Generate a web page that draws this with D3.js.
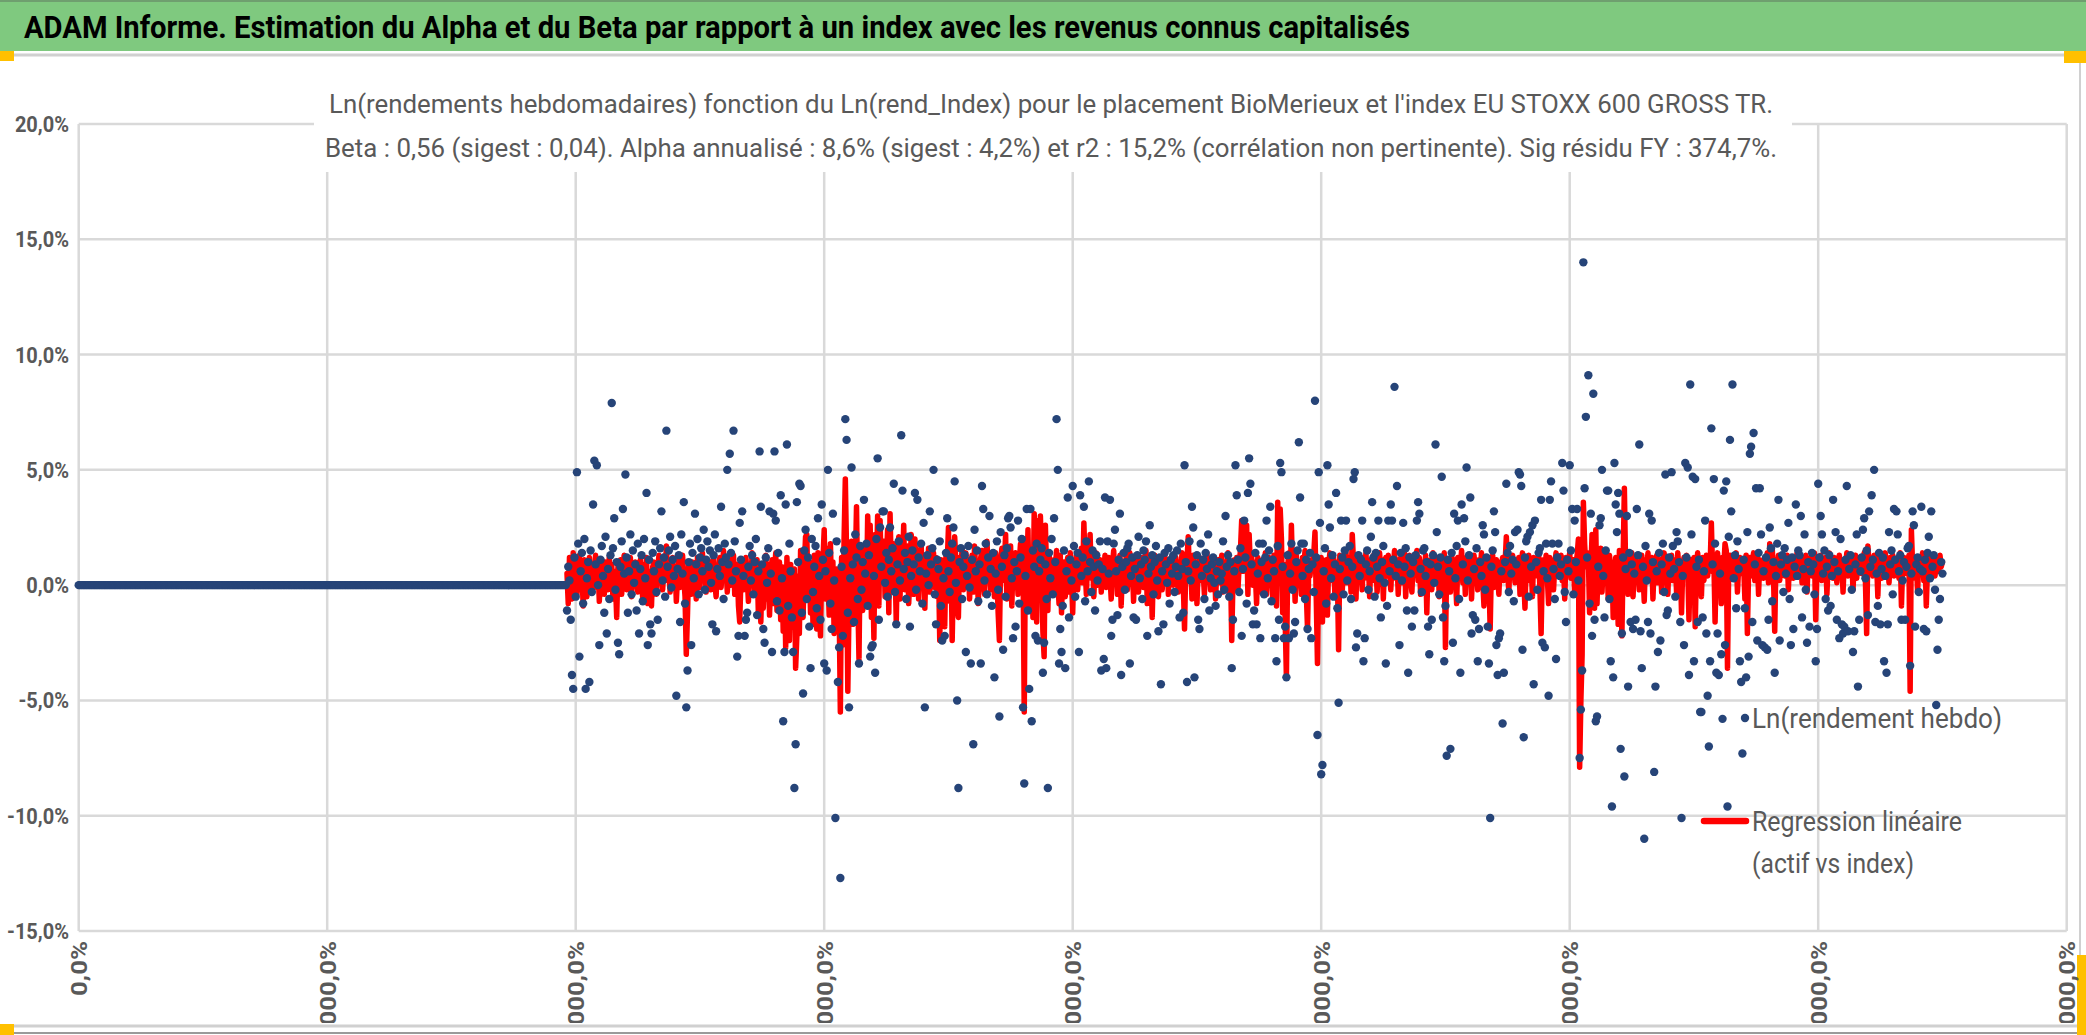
<!DOCTYPE html>
<html>
<head>
<meta charset="utf-8">
<script src="https://cdn.jsdelivr.net/npm/d3@7"></script>
<style>
  body { margin: 0; background: #fff; }
  svg { display: block; font-family: "Liberation Sans Narrow", "Roboto", sans-serif; }
</style>
</head>
<body>
<svg id="chart"></svg>
<script>
// semaines sans cotation (valeur 0) avant le début de la série
const semainesVides = [
  0,0,0,0,0,0,0,0,0,0,0,0,0,0,0,0,0,0,0,0,0,0,0,0,0,0,0,0,0,0,0,0,0,0,0,0,0,0,0,0,0,0,0,0,0,0,0,0,0,0,
  0,0,0,0,0,0,0,0,0,0,0,0,0,0,0,0,0,0,0,0,0,0,0,0,0,0,0,0,0,0,0,0,0,0,0,0,0,0,0,0,0,0,0,0,0,0,0,0,0,0,
  0,0,0,0,0,0,0,0,0,0,0,0,0,0,0,0,0,0,0,0,0,0,0,0,0,0,0,0,0,0,0,0,0,0,0,0,0,0,0,0,0,0,0,0,0,0,0,0,0,0,
  0,0,0,0,0,0,0,0,0,0,0,0,0,0,0,0,0,0,0,0,0,0,0,0,0,0,0,0,0,0,0,0,0,0,0,0,0,0,0,0,0,0,0,0,0,0,0,0,0,0,
  0,0,0,0,0,0,0,0,0,0,0,0,0,0,0,0,0,0,0,0,0,0,0,0,0,0,0,0,0,0,0,0,0,0,0,0,0,0,0,0,0,0,0,0,0,0,0,0,0,0,
  0,0,0,0,0,0,0,0,0,0,0,0,0,0,0,0,0,0,0,0,0,0,0,0,0,0,0,0,0,0,0,0,0,0,0,0,0,0,0,0,0,0,0,0,0,0,0,0,0,0,
  0,0,0,0,0,0,0,0,0,0,0,0,0,0,0,0,0,0,0,0,0,0,0,0,0,0,0,0,0,0,0,0,0,0,0,0,0,0,0,0,0,0,0,0,0,0,0,0,0,0,
  0,0,0,0,0,0,0,0,0,0,0,0,0,0,0,0,0,0,0,0,0,0,0,0,0,0,0,0,0,0,0,0,0,0,0,0,0,0,0,0,0,0,0
];

// Ln(rendement hebdo), en dixièmes de %, semaines 393 à 1500
const rendHebdo = [
  -11,8,2,-15,-39,-45,12,-5,49,18,-31,6,14,-8,20,-45,3,10,-42,15,
  -3,35,54,9,52,0,-26,11,17,4,-12,21,-21,7,-6,13,79,16,29,-2,
  10,-25,-30,8,19,33,5,48,12,-12,6,22,-4,15,1,9,-11,18,-21,7,
  13,-7,20,3,40,-26,11,-17,-21,14,6,19,-3,-15,9,16,32,2,12,-5,
  67,8,15,21,-1,11,4,17,-48,7,13,-16,22,5,36,-8,-53,-37,10,18,
  -26,14,3,31,9,20,-4,12,16,6,24,-2,11,19,8,15,1,-17,13,22,
  -20,7,16,4,34,10,-6,18,12,50,9,57,14,2,67,19,6,-31,-22,27,
  11,32,4,-22,-15,-12,8,17,2,13,-4,10,20,-13,6,58,34,9,-19,-25,
  12,1,16,32,5,-29,31,58,28,-7,14,-11,39,3,-59,-29,35,61,-9,18,
  6,-14,-29,-88,-69,36,10,44,43,-12,-47,15,24,-6,12,-18,-36,20,-3,8,
  17,-10,29,4,-15,35,11,-34,6,-37,50,14,-8,-19,31,2,-101,19,-42,-27,
  -127,8,-22,15,72,63,-12,-53,3,51,9,-16,22,12,-6,-34,17,-2,10,37,
  5,18,-9,13,-31,-27,-26,4,-38,20,55,-15,25,8,32,32,1,14,-5,11,
  25,6,16,44,-3,-17,9,19,2,65,41,7,14,-6,10,21,-18,4,15,9,
  40,-2,37,12,6,18,-8,27,-53,5,13,0,32,9,16,50,-4,-17,11,7,
  19,-9,-24,3,-22,14,29,6,-3,12,18,25,45,1,-50,-88,10,16,-6,8,
  13,-29,4,17,-1,-34,11,-69,24,6,15,-7,9,-34,43,33,2,18,-4,12,
  30,7,-9,14,-40,5,19,-2,-57,23,8,-28,13,-5,16,29,30,25,3,-23,
  10,-18,6,28,-8,12,20,-53,-86,4,33,-11,-45,33,-59,15,8,-22,18,-24,
  6,11,16,-38,-25,9,-6,-88,14,3,20,-4,29,10,72,50,-34,-19,-29,-9,
  15,-36,6,38,-14,11,2,43,17,-5,9,14,-29,39,4,12,34,-7,19,6,
  45,10,-3,15,8,-11,13,2,9,19,-37,7,-32,38,-36,19,5,37,-22,-15,
  18,24,6,-13,11,31,-39,8,14,-2,10,16,18,-34,4,12,-14,7,-15,13,
  21,3,9,-6,15,11,19,-22,5,26,8,13,-4,10,17,2,-20,12,-43,6,
  -17,14,9,1,16,-8,11,5,13,-3,8,15,4,-14,18,7,-12,52,10,-42,
  6,19,2,34,25,-40,9,13,-15,-19,18,4,11,-6,14,7,22,-11,3,9,
  12,1,-9,6,-4,10,2,5,19,-2,30,8,13,-5,10,-36,-15,6,52,39,
  11,-3,16,-22,7,28,12,-8,40,55,44,9,-17,-11,14,-17,5,18,-23,10,
  18,-4,12,28,3,15,34,-7,11,6,-23,-33,17,-15,53,49,8,-23,-18,-40,
  13,-23,5,18,-2,-21,-16,10,15,62,38,18,4,18,-6,11,-19,7,14,-23,
  9,-3,80,12,-65,49,27,-82,-78,6,16,-8,52,35,25,3,13,-5,9,40,
  -10,-51,7,28,12,-4,15,28,2,10,17,-6,8,46,49,-27,-21,13,4,11,
  28,-33,-23,9,15,-2,6,21,36,12,-5,14,8,28,3,-14,10,17,1,-34,
  -9,28,6,35,28,11,86,4,43,9,-26,14,2,27,8,16,-11,-38,12,5,
  -18,10,-11,13,28,36,31,7,-3,15,16,4,10,-18,-30,9,-15,13,1,61,
  23,8,-4,12,47,-14,-33,-9,-74,11,6,-71,14,-25,31,3,17,28,-6,-38,
  35,9,29,19,51,2,13,38,-21,-13,7,-15,16,-33,-19,10,4,26,22,-2,
  12,-18,-34,-101,8,15,32,23,-26,-39,-23,-21,6,-60,-38,10,44,14,-3,17,
  5,11,-7,23,9,24,49,48,43,-28,-66,12,19,21,-5,23,8,26,-43,28,
  10,-2,14,16,37,-25,6,-27,18,3,-48,37,45,18,7,-6,-32,12,18,4,
  9,53,41,-3,-16,11,6,52,15,33,-4,28,10,33,2,-75,-54,-37,140,42,
  73,12,91,-8,31,-22,83,-15,-59,-57,8,26,29,50,4,-14,15,41,41,-6,
  -33,-96,-40,53,35,23,40,31,-71,-21,12,-83,7,30,-44,14,-16,9,-19,5,
  -15,33,13,61,-20,-36,8,-110,17,2,-16,31,-21,28,10,-81,-44,6,-29,14,
  -24,9,18,-3,48,-13,-11,12,5,49,17,7,-5,23,19,10,-16,-101,4,-26,
  53,12,51,-39,87,22,47,-33,46,8,-16,11,-55,-55,-14,6,28,-21,-48,-70,
  -33,68,9,46,18,-38,-21,-39,5,-30,-58,41,-26,45,-96,21,63,32,87,3,
  13,-10,19,7,-33,-42,-73,11,-10,-40,23,-31,57,60,-16,66,9,42,-24,14,
  42,22,-26,6,-27,12,-28,-15,25,16,-7,10,-38,4,18,37,-24,9,13,-3,
  16,5,11,27,-6,-26,12,-19,8,35,4,15,13,30,-14,7,22,-2,-25,10,
  -18,6,14,9,-4,-33,-19,44,12,30,22,5,15,-6,8,-11,13,-9,4,37,
  10,23,-15,6,-23,20,-17,-21,-18,11,43,-20,7,13,-2,-29,-20,9,22,-44,
  -15,6,12,24,29,3,15,-13,32,8,39,11,50,-16,5,-9,14,-17,7,12,
  -33,4,-38,-17,23,9,15,-4,33,11,32,22,6,13,-15,2,10,-15,8,16,
  17,-35,5,32,26,-18,9,12,-3,7,34,6,-19,11,-20,14,21,3,32,8,
  13,-2,-52,-28,-15,-6,10,5
];

// Regression linéaire (actif vs index), en dixièmes de %, mêmes semaines
const regression = [
  5,-8,12,-3,-6,14,2,9,-4,10,13,-2,7,-9,11,4,-5,8,12,1,
  -3,9,6,13,-1,8,-7,5,11,3,-4,10,7,-2,12,4,9,-6,6,1,
  -14,8,3,11,-4,7,13,2,-2,9,5,12,-5,8,1,10,3,-3,7,11,
  2,-6,9,4,12,-8,6,0,-9,8,10,3,-4,7,13,1,8,-2,11,5,
  17,2,9,-3,6,12,0,8,-7,4,11,-1,7,13,3,-5,-30,-12,9,6,
  -4,10,2,8,-6,12,4,-1,9,14,3,7,-3,11,5,10,-2,6,13,1,
  -5,8,4,12,-1,7,15,2,9,-3,6,11,0,8,13,-4,5,9,-9,-16,
  3,10,-2,7,12,4,-7,9,1,14,6,-3,8,11,-12,2,-16,7,-10,5,
  13,-6,9,-13,4,11,-8,6,14,-11,3,10,-15,8,-20,5,-27,12,-6,-24,
  9,-18,-14,7,-36,-22,4,-21,15,-9,-14,8,21,22,-5,10,-12,6,-17,13,
  2,-19,14,-8,-22,9,11,24,-6,16,4,-13,18,-3,10,-21,-10,7,-15,-8,
  -55,12,-26,20,46,14,-46,-9,8,19,-17,11,6,34,-4,-32,15,2,-11,9,
  17,-7,30,12,26,-14,8,-23,22,5,30,-9,28,3,14,19,-5,10,24,-12,
  31,6,-3,18,9,-16,13,21,-6,15,8,26,-2,11,17,-8,4,22,12,-4,
  20,7,15,-6,9,18,2,13,-10,11,5,16,-3,10,7,14,-1,12,-5,8,
  -24,11,-16,6,-18,13,9,25,-7,15,-24,4,21,10,-9,-14,12,6,16,-2,
  9,14,1,11,-6,8,13,-3,17,5,10,-8,7,12,15,3,-4,11,19,6,
  8,-2,13,9,-5,14,4,-12,-24,10,16,2,8,22,-6,12,5,17,-9,11,
  3,14,7,-4,10,18,6,12,-55,20,2,24,-10,15,8,-14,31,9,-16,28,
  4,30,12,-20,-31,26,6,-11,14,3,9,-4,11,7,15,2,-8,13,-12,6,
  10,-5,8,12,-3,14,4,-12,9,7,13,-2,10,5,16,1,27,8,-4,11,
  6,22,3,12,-5,9,14,0,7,11,-3,10,5,13,-1,8,12,4,-6,9,
  15,2,11,-4,7,13,-9,6,10,3,12,-2,8,14,1,9,-7,11,5,13,
  -3,10,6,12,-1,8,15,-8,4,11,7,-14,9,13,2,10,-5,6,12,-2,
  8,14,3,11,-4,9,5,13,0,7,12,4,-3,10,6,14,1,-19,8,11,
  21,3,9,-6,13,5,10,-8,7,12,2,11,6,-4,9,14,3,8,-2,10,
  5,12,-6,7,11,1,9,13,-3,6,10,4,14,-5,8,-24,3,11,7,12,
  -2,9,15,28,6,23,11,26,-4,22,8,13,0,10,5,-8,12,3,9,-3,
  11,6,14,-4,8,12,2,10,-6,13,4,-9,36,7,33,20,-12,9,-15,-40,
  8,14,-2,26,5,11,-7,13,3,10,6,-4,12,8,15,-3,-19,9,4,11,
  7,13,23,-5,-34,10,6,12,-16,8,3,11,-13,9,14,2,7,12,-4,10,
  5,-28,13,8,-2,11,6,14,1,9,12,-3,22,10,7,-6,13,4,11,8,
  -2,12,6,14,3,9,-5,11,7,13,2,10,-3,8,14,5,11,-6,9,12,
  4,13,7,-2,10,6,15,3,11,-4,9,12,1,8,14,-5,10,6,13,3,
  -3,11,7,9,15,2,12,-4,8,10,6,13,-12,9,4,11,-2,14,7,10,
  3,12,-5,8,11,6,14,-27,9,2,10,-3,13,7,11,4,-8,12,6,9,
  15,1,10,-4,12,7,3,11,-6,9,13,5,8,-2,11,6,14,2,-9,10,
  7,12,3,-19,9,13,-1,8,11,5,-4,10,6,12,2,9,21,7,-3,11,
  5,13,8,1,10,6,12,-4,9,14,3,-10,11,7,13,2,9,-5,12,6,
  10,4,14,-1,-21,8,11,5,13,3,-8,12,6,10,-2,9,14,4,11,7,
  13,2,9,-6,12,5,10,14,3,8,11,-4,9,13,20,-79,-50,-30,36,18,
  8,14,12,-12,6,22,10,-10,24,-8,12,5,16,-3,9,14,2,11,-6,13,
  7,10,-14,4,12,9,-17,15,6,-22,11,42,8,13,-4,10,6,14,-5,9,
  12,3,10,-2,8,13,5,-7,11,7,14,2,9,12,-6,10,6,13,1,8,
  11,-3,9,14,5,10,-4,12,7,13,2,9,11,-3,14,6,10,-12,8,12,
  4,13,7,-15,11,9,3,12,-18,8,14,6,10,-5,12,2,9,13,4,11,
  8,27,6,12,-16,9,14,3,10,-8,12,7,18,15,-36,9,13,6,11,4,
  10,14,-3,8,12,5,11,9,-6,13,-21,7,12,4,10,14,2,9,13,-4,
  11,6,10,3,12,8,14,1,18,9,16,5,-20,11,7,13,2,10,6,12,
  4,9,13,-2,11,7,12,3,10,8,14,5,9,12,1,10,6,13,-3,11,
  7,12,4,9,14,-15,8,11,5,13,2,10,7,12,-4,9,14,6,11,3,
  12,8,1,10,13,5,9,-3,11,7,14,4,10,6,12,-2,9,13,3,11,
  8,12,5,10,14,2,-21,17,9,6,11,4,13,8,10,-5,12,7,3,11,
  9,14,6,10,1,12,8,13,4,10,7,11,3,14,-9,9,12,5,10,6,
  13,-46,24,8,11,3,10,-3,12,7,9,14,2,11,-9,8,13,5,10,6,
  12,4,9,11,6,13,8,10
];

const yTicks = [-0.15, -0.10, -0.05, 0, 0.05, 0.10, 0.15, 0.20];
const xTicks = [0, 200, 400, 600, 800, 1000, 1200, 1400, 1600];

const titre = "ADAM Informe. Estimation du Alpha et du Beta par rapport à un index avec les revenus connus capitalisés";
const sousTitre1 = "Ln(rendements hebdomadaires) fonction du Ln(rend_Index) pour le placement BioMerieux et l'index EU STOXX 600 GROSS TR.";
const sousTitre2 = "Beta : 0,56 (sigest : 0,04). Alpha annualisé : 8,6% (sigest : 4,2%) et r2 : 15,2% (corrélation non pertinente). Sig résidu FY : 374,7%.";
const legendeSerie = "Ln(rendement hebdo)";
const legendeReg = ["Regression linéaire", "(actif vs index)"];

// ---------------------------------------------------------------
const width = 2086, height = 1035;
const gris = "#595959", grille = "#d9d9d9";

const svg = d3.select("#chart").attr("width", width).attr("height", height);

// points : semaines vides puis la série, tout en fraction
const premiere = semainesVides.length;
const points = semainesVides.map((v, i) => ({ i: i, v: v }))
  .concat(rendHebdo.map((v, j) => ({ i: premiere + j, v: v / 1000 })));
const regPoints = regression.map((v, j) => ({ i: premiere + j, v: v / 1000 }));

const x = d3.scaleLinear().domain([0, 1600]).range([78.7, 2066.7]);
const y = d3.scaleLinear().domain([-0.15, 0.20]).range([931, 124]);

const loc = d3.formatLocale({ decimal: ",", thousands: " ", grouping: [3], currency: ["", "€"], minus: "-" });
const pct = loc.format(".1%");

// force la largeur d'un texte (police étroite type Calibri)
function largeur(sel, w) {
  sel.attr("textLength", w).attr("lengthAdjust", "spacingAndGlyphs");
}
function serre(sel, k) {
  sel.each(function () {
    const n = this.getComputedTextLength();
    d3.select(this).attr("textLength", n * k).attr("lengthAdjust", "spacingAndGlyphs");
  });
}

// bandeau vert
svg.append("rect").attr("x", 0).attr("y", 0).attr("width", width).attr("height", 51).attr("fill", "#7fc97f");
svg.append("rect").attr("x", 0).attr("y", 0).attr("width", width).attr("height", 2).attr("fill", "#6f9f6f");
svg.append("text")
  .attr("x", 24).attr("y", 38)
  .attr("font-size", 31).attr("font-weight", "bold").attr("fill", "#000")
  .text(titre)
  .call(largeur, 1386);

// cadre du graphique
svg.append("line").attr("x1", 12).attr("x2", 2080).attr("y1", 55).attr("y2", 55)
  .attr("stroke", "#d0d0d0").attr("stroke-width", 3);
svg.append("line").attr("x1", 2080).attr("x2", 2080).attr("y1", 55).attr("y2", 1026)
  .attr("stroke", "#d0d0d0").attr("stroke-width", 2);
svg.append("line").attr("x1", 0).attr("x2", 2080).attr("y1", 1026).attr("y2", 1026)
  .attr("stroke", "#d0d0d0").attr("stroke-width", 3);
svg.append("line").attr("x1", 12).attr("x2", width).attr("y1", 1033).attr("y2", 1033)
  .attr("stroke", "#9a9a9a").attr("stroke-width", 2);
// poignées de sélection
svg.append("rect").attr("x", 0).attr("y", 51).attr("width", 14).attr("height", 10).attr("fill", "#ffc000");
svg.append("rect").attr("x", 2064).attr("y", 51).attr("width", 22).attr("height", 12).attr("fill", "#ffc000");
svg.append("rect").attr("x", 0).attr("y", 1024).attr("width", 14).attr("height", 11).attr("fill", "#ffc000");
svg.append("rect").attr("x", 2077).attr("y", 955).attr("width", 9).attr("height", 80).attr("fill", "#ffc000");

// grille
svg.append("g").selectAll("line").data(yTicks).join("line")
  .attr("x1", x(0)).attr("x2", x(1600))
  .attr("y1", d => y(d)).attr("y2", d => y(d))
  .attr("stroke", grille).attr("stroke-width", 2.5);
svg.append("g").selectAll("line").data(xTicks).join("line")
  .attr("x1", d => x(d)).attr("x2", d => x(d))
  .attr("y1", y(0.20)).attr("y2", y(-0.15))
  .attr("stroke", grille).attr("stroke-width", 2.5);

// axe Y
const axeY = svg.append("g")
  .attr("transform", "translate(69,0)")
  .call(d3.axisLeft(y).tickValues(yTicks).tickFormat(pct).tickSize(0).tickPadding(0))
  .call(g => g.select(".domain").remove());
axeY.attr("font-family", null).attr("font-size", null);
const txtY = axeY.selectAll("text")
  .attr("font-size", 22).attr("font-weight", "bold").attr("fill", gris).attr("dy", "0.34em");
const refY = txtY.filter(d => d === -0.15).node().getComputedTextLength();
serre(txtY, 62 / refY);

// axe X (étiquettes verticales, coupées par le bas du cadre comme dans l'original)
svg.append("clipPath").attr("id", "clipX")
  .append("rect").attr("x", 0).attr("y", 932).attr("width", width).attr("height", 91);
const axeX = svg.append("g").attr("clip-path", "url(#clipX)")
  .append("g")
  .attr("transform", `translate(0,${y(-0.15)})`)
  .call(d3.axisBottom(x).tickValues(xTicks).tickFormat(pct).tickSize(0))
  .call(g => g.select(".domain").remove());
axeX.attr("font-family", null).attr("font-size", null);
const txtX = axeX.selectAll("text")
  .attr("font-size", 22).attr("font-weight", "bold").attr("fill", gris)
  .attr("text-anchor", "end")
  .attr("transform", "rotate(-90)")
  .attr("x", -10).attr("y", 0).attr("dy", "0.36em");
const refX = txtX.filter(d => d === 0).node().getComputedTextLength();
serre(txtX, 55 / refX);

// cartouche du sous-titre
svg.append("rect").attr("x", 314).attr("y", 80).attr("width", 1478).attr("height", 92).attr("fill", "#fff");
svg.append("text").attr("x", 1051).attr("y", 113).attr("text-anchor", "middle")
  .attr("font-size", 26).attr("fill", gris).text(sousTitre1).call(largeur, 1444);
svg.append("text").attr("x", 1051).attr("y", 157).attr("text-anchor", "middle")
  .attr("font-size", 26).attr("fill", gris).text(sousTitre2).call(largeur, 1452);

// droite de régression
const ligne = d3.line().x(d => x(d.i)).y(d => y(d.v));
svg.append("path")
  .attr("d", ligne(regPoints))
  .attr("fill", "none").attr("stroke", "#ff0000").attr("stroke-width", 5.5)
  .attr("stroke-linejoin", "round").attr("stroke-linecap", "round");

// nuage des rendements
svg.append("g").selectAll("circle").data(points).join("circle")
  .attr("cx", d => x(d.i)).attr("cy", d => y(d.v))
  .attr("r", 4.2).attr("fill", "#264478");

// légende
const leg = svg.append("g");
leg.append("circle").attr("cx", 1745).attr("cy", 718).attr("r", 4.2).attr("fill", "#264478");
leg.append("text").attr("x", 1752).attr("y", 728).attr("font-size", 27).attr("fill", gris)
  .text(legendeSerie).call(largeur, 250);
leg.append("line").attr("x1", 1704).attr("x2", 1746).attr("y1", 821).attr("y2", 821)
  .attr("stroke", "#ff0000").attr("stroke-width", 6.5).attr("stroke-linecap", "round");
leg.append("text").attr("x", 1752).attr("y", 831).attr("font-size", 27).attr("fill", gris)
  .text(legendeReg[0]).call(largeur, 210);
leg.append("text").attr("x", 1752).attr("y", 873).attr("font-size", 27).attr("fill", gris)
  .text(legendeReg[1]).call(largeur, 162);
</script>
</body>
</html>
